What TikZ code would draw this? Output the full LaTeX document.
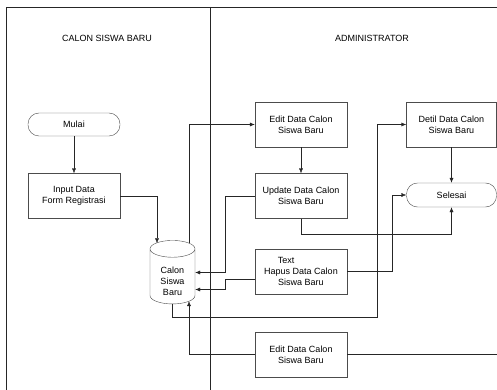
\documentclass[tikz,border=0pt]{standalone}
\usepackage{fontspec}
\setmainfont{Liberation Sans}
\usetikzlibrary{calc}
\usetikzlibrary{shapes.geometric}
\usetikzlibrary{positioning}
\usetikzlibrary{arrows.meta}

\begin{document}
\begin{tikzpicture}[
    x=1pt, y=-1pt,
    every node/.style={font=\fontsize{9}{11}\selectfont, align=center},
    boxnode/.style={rectangle, draw=black!70, minimum width=92pt, minimum height=45pt, inner sep=1pt},
    termnode/.style={rectangle, rounded corners=11pt, draw=black!70, minimum width=92pt, minimum height=23pt},
    dbnode/.style={cylinder, shape border rotate=90, aspect=0.7, draw=black!70, minimum width=45pt, minimum height=59pt, inner sep=0pt},
    flow/.style={-{Latex[length=5pt,width=4pt]}, black!85},
    link/.style={black!85},
    lane/.style={semithick, black!85}
]
    \useasboundingbox (0,0) rectangle (497,390);

    % Swimlanes
    % - [Frame and divider]
    \draw [lane] (6.5,390) -- (6.5,7) -- (497,7);
    \draw [lane] (210,7) -- (210,390);
    % - [Lane titles]
    \node at (107,38) (title_calon) {CALON SISWA BARU};
    \node at (372,38) (title_admin) {ADMINISTRATOR};

    % Calon Siswa Baru lane
    \node at (74,124.5) [termnode] (mulai) {Mulai};
    \node at (74,196) [boxnode] (input) {Input Data\\Form Registrasi};
    % -- the text sits low in the cylinder body
    \node at (172.5,276.5) [dbnode] (db) {\mbox{}\\[5pt]Calon\\Siswa\\Baru};

    % Administrator lane
    \node at (301,124.5) [boxnode] (edit_top) {Edit Data Calon\\Siswa Baru};
    \node at (301,196) [boxnode] (update) {Update Data Calon\\Siswa Baru};
    \node at (301,271.5) [boxnode] (hapus) {Text\hspace*{30pt}\\Hapus Data Calon\\Siswa Baru};
    \node at (301,354.5) [boxnode] (edit_bottom) {Edit Data Calon\\Siswa Baru};
    \node at (451.5,124.5) [boxnode, minimum width=90pt] (detil) {Detil Data Calon\\Siswa Baru};
    \node at (451.5,195) [termnode, minimum width=90pt, minimum height=24pt] (selesai) {Selesai};

    % -- Bend points
    \coordinate (detil_turn) at (377,317);
    \coordinate (lane_end) at (497,354.5);

    % Connectors
    % - [Start to database]
    \draw [flow] (mulai) -- (input);
    \draw [flow] (input.east) -| ([xshift=-15.5pt, yshift=-3pt]db.north);
    % - [Database to admin]
    \draw [flow] ([xshift=16.5pt, yshift=-3pt]db.north) |- (edit_top.west);
    \draw [flow] (edit_top) -- (update);
    \draw [flow] (update.west) -- ++(-30,0) |- ([yshift=4pt]db.east);
    \draw [flow] ([yshift=-7.5pt]hapus.west) -- ++(-30,0) |- ([yshift=-13pt]db.east);
    \draw [flow] (db.south) |- (detil_turn) |- (detil.west);
    \draw [flow] (edit_bottom.west) -| ([xshift=16.5pt, yshift=3pt]db.south);
    \draw [link] (edit_bottom.east) -- (lane_end);
    % - [Admin to finish]
    \draw [flow] (update.south) -- ++(0,15) -| (selesai.south);
    \draw [flow] (hapus.east) -- ++(45,0) |- (selesai.west);
    \draw [flow] (detil) -- (selesai);
\end{tikzpicture}
\end{document}
